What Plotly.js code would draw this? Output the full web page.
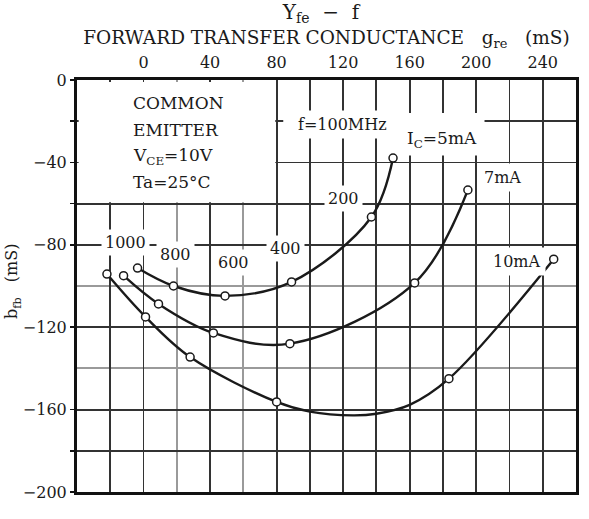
<!DOCTYPE html>
<html>
<head>
<meta charset="utf-8">
<script src="https://cdn.plot.ly/plotly-3.0.1.min.js"></script>
<style>html,body{margin:0;padding:0;background:#fff;}#chart{width:589px;height:519px;}</style>
</head>
<body>
<div id="chart"></div>
<script>
// Frequency (MHz) at each marked point, from left to right on each curve
const freqLabels = ['1000', '800', '600', '400', '200', '100'];
// Marked points: forward transfer conductance g_re (mS) and susceptance b_fb (mS)
const ic5_g  = [-3.6, 18, 49, 89, 137, 150];
const ic5_b  = [-91.3, -100, -104.8, -98, -66.5, -37.9];
const ic7_g  = [-12, 9, 42, 88, 163, 195];
const ic7_b  = [-95, -108.7, -122.8, -128, -98.5, -53.4];
const ic10_g = [-22, 1.2, 28, 80, 183.6, 246.6];
const ic10_b = [-94.2, -115, -134.5, -156.3, -145, -87];
// Extra points (its bottom between 400 and 200 MHz)
const ic10_curve_g = [-22, 1.2, 28, 80, 100, 126, 140, 160, 183.6, 246.6];
const ic10_curve_b = [-94.2, -115, -134.5, -156.3, -161, -162.8, -162, -157.7, -145, -87];
const seriesNames = ['I_C=5mA', 'I_C=7mA', 'I_C=10mA'];
// Axis tick labels
const xTickLabels = [0, 40, 80, 120, 160, 200, 240];
const yTickLabels = [0, -40, -80, -120, -160, -200];

const FONT = 'DejaVu Serif, Liberation Serif, serif';
const INK = '#1a1a1a';

function line(g, b, name) {
  return {
    x: g, y: b, name: name, type: 'scatter', mode: 'lines',
    line: {shape: 'spline', smoothing: 1, color: INK, width: 2.4},
    hoverinfo: 'skip', cliponaxis: false
  };
}
function pts(g, b, name) {
  return {
    x: g, y: b, name: name, text: freqLabels, type: 'scatter', mode: 'markers',
    marker: {symbol: 'circle', size: 8, color: '#fff', line: {color: INK, width: 1.5}},
    hoverinfo: 'x+y+text+name', cliponaxis: false
  };
}
const data = [
  line(ic5_g, ic5_b, seriesNames[0]),
  line(ic7_g, ic7_b, seriesNames[1]),
  line(ic10_curve_g, ic10_curve_b, seriesNames[2]),
  pts(ic5_g, ic5_b, seriesNames[0]),
  pts(ic7_g, ic7_b, seriesNames[1]),
  pts(ic10_g, ic10_b, seriesNames[2])
];

// grid: every 20 mS; a few lighter lines as in the scan
const xGray = [20, 60];
const yGray = [-100, -140];
const xGrid = [], yGrid = [];
for (let v = -20; v <= 240; v += 20) if (!xGray.includes(v)) xGrid.push(v);
for (let v = 0; v >= -200; v -= 20) if (!yGray.includes(v)) yGrid.push(v);
const xText = xGrid.map(v => xTickLabels.includes(v) ? String(v) : ' ');
const yText = yGrid.map(v => yTickLabels.includes(v) ? (v === 0 ? '0' : '\u2212' + Math.abs(v)) : ' ');

function lab(text, x, y, size, opts) {
  return Object.assign({
    text: text, x: x, y: y, xref: 'x', yref: 'y', showarrow: false,
    font: {family: FONT, size: size || 16, color: INK},
    bgcolor: '#fff', borderpad: 3, xanchor: 'center', yanchor: 'middle'
  }, opts || {});
}

const annotations = [
  lab('COMMON', -9, -11.2, 17, {xanchor: 'left', bgcolor: 'rgba(0,0,0,0)'}),
  lab('EMITTER', -9, -24.3, 17, {xanchor: 'left', bgcolor: 'rgba(0,0,0,0)'}),
  lab('V<sub>CE</sub>=10V', -9, -36.9, 17, {xanchor: 'left', bgcolor: 'rgba(0,0,0,0)'}),
  lab('Ta=25\u00b0C', -9, -49.5, 17, {xanchor: 'left', bgcolor: 'rgba(0,0,0,0)'}),
  lab(freqLabels[0], -10.8, -79.1),
  lab(freqLabels[1], 19.2, -84.5),
  lab(freqLabels[2], 54, -88.8),
  lab(freqLabels[3], 85.2, -82),
  lab(freqLabels[4], 120, -57.3),
  lab('f=' + freqLabels[5] + 'MHz', 119.4, -21.4, 16, {borderpad: 4}),
  lab('I<sub>C</sub>=5mA', 179.4, -29.1, 17, {borderpad: 4}),
  lab('7mA', 216, -47.1, 16, {borderpad: 4}),
  lab('10mA', 224.4, -88.3, 16, {borderpad: 4}),
  // y-axis title, rotated as in the reference
  {text: 'b<sub>fb</sub>\u00a0\u00a0\u00a0(mS)', xref: 'paper', yref: 'paper',
   x: -0.128, y: 0.51, xanchor: 'center', yanchor: 'middle', textangle: -90, showarrow: false,
   font: {family: FONT, size: 16, color: INK}}
];

const layout = {
  width: 589, height: 519,
  margin: {l: 77, r: 13, t: 80, b: 27, pad: 0},
  paper_bgcolor: '#fff', plot_bgcolor: '#fff',
  showlegend: false,
  font: {family: FONT, color: INK},
  title: {
    text: 'Y<sub>fe</sub>\u00a0\u00a0\u2212\u00a0\u00a0f',
    font: {family: FONT, size: 20, color: INK},
    x: 0.545, xanchor: 'center', xref: 'container',
    y: 0.977, yanchor: 'middle', yref: 'container'
  },
  xaxis: {
    side: 'top', range: [-40, 260], autorange: false,
    tickmode: 'array', tickvals: xGrid, ticktext: xText,
    showgrid: true, gridcolor: '#333', gridwidth: 1.8,
    minor: {tickmode: 'array', tickvals: xGray, showgrid: true, gridcolor: '#9a9a9a', gridwidth: 2, ticks: ''},
    zeroline: false, showline: true, linecolor: '#111', linewidth: 3, mirror: true,
    ticks: 'outside', ticklen: 3, tickcolor: 'rgba(0,0,0,0)',
    tickfont: {family: FONT, size: 16, color: INK},
    title: {
      text: 'FORWARD TRANSFER CONDUCTANCE\u00a0\u00a0\u00a0g<sub>re</sub>\u00a0\u00a0\u00a0(mS)',
      font: {family: FONT, size: 18.5, color: INK}, standoff: 4
    },
    automargin: false, fixedrange: true
  },
  yaxis: {
    range: [-200, 0], autorange: false,
    tickmode: 'array', tickvals: yGrid, ticktext: yText,
    showgrid: true, gridcolor: '#333', gridwidth: 1.8,
    minor: {tickmode: 'array', tickvals: yGray, showgrid: true, gridcolor: '#9a9a9a', gridwidth: 2, ticks: ''},
    zeroline: false, showline: true, linecolor: '#111', linewidth: 3, mirror: true,
    ticks: 'outside', ticklen: 4, tickcolor: '#111', tickwidth: 1.5,
    tickfont: {family: FONT, size: 16, color: INK},
    automargin: false, fixedrange: true
  },
  shapes: [
    {type: 'rect', xref: 'x', yref: 'y', x0: -39, x1: 79.2, y0: -59.3, y1: -1,
     fillcolor: '#fff', line: {width: 0}, layer: 'between'},
    {type: 'rect', xref: 'x', yref: 'y', x0: 84, x1: 205, y0: -16, y1: -26,
     fillcolor: '#fff', line: {width: 0}, layer: 'between'}
  ],
  annotations: annotations
};

Plotly.newPlot('chart', data, layout, {displayModeBar: false, staticPlot: true});
</script>
</body>
</html>
